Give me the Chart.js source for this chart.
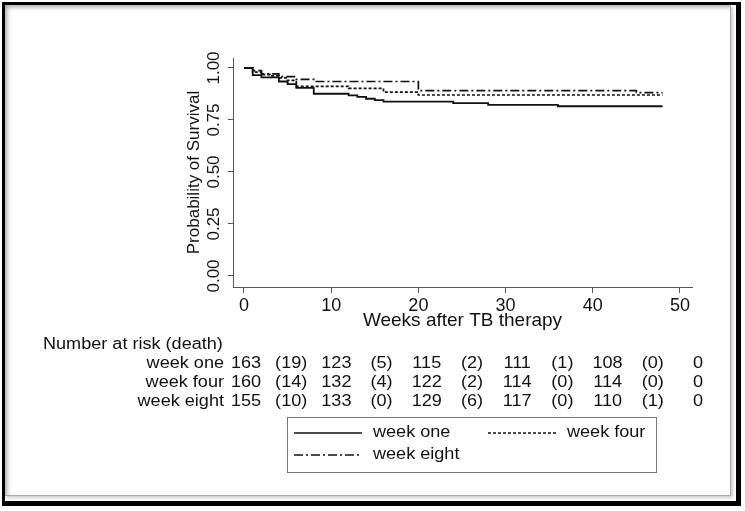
<!DOCTYPE html>
<html>
<head>
<meta charset="utf-8">
<script src="https://cdn.jsdelivr.net/npm/chart.js@4"></script>
<style>
    html, body { margin: 0; padding: 0; background: #fff; }
    #wrap { position: relative; width: 745px; height: 511px; overflow: hidden; }
    #frame {
        position: absolute; left: 2px; top: 2px; width: 739px; height: 504px;
        box-sizing: border-box; border-style: solid; border-color: #000;
        border-width: 3px 5px 5px 3px;
    }
    #inner {
        position: absolute; left: 5px; top: 5px; width: 726px; height: 491px;
        box-sizing: border-box; border-right: 1px solid #aaa; border-bottom: 1px solid #aaa;
        box-shadow: inset 4px 4px 5px -2px rgba(0,0,0,0.35), 2px 2px 3px rgba(0,0,0,0.2);
    }
    canvas { position: absolute; left: 0; top: 0; }
</style>
</head>
<body>
<div id="wrap">
    <div id="frame"></div>
    <div id="inner"></div>
    <canvas id="kmChart" width="745" height="511"></canvas>
</div>
<script>
// Kaplan-Meier curves
const seriesNames = ['week one', 'week four', 'week eight'];

const weeksOne = [0, 1, 2, 4, 5, 6, 8, 12, 13, 14, 15, 16, 24, 28, 36, 48];
const survOne  = [1.0, 0.966, 0.955, 0.935, 0.922, 0.904, 0.876, 0.868, 0.861, 0.852, 0.845, 0.838, 0.831, 0.823, 0.816, 0.816];

const weeksFour = [0, 1, 2, 3, 4, 5, 6, 12, 16, 20, 48];
const survFour  = [1.0, 0.98, 0.968, 0.962, 0.952, 0.94, 0.912, 0.902, 0.884, 0.870, 0.870];

const weeksEight = [0, 1, 2, 4, 6, 8, 20, 45, 48];
const survEight  = [1.0, 0.987, 0.972, 0.958, 0.945, 0.935, 0.891, 0.882, 0.882];

// Number at risk (death) table
const riskTitle = 'Number at risk (death)';
const atRiskOne   = [163, 123, 115, 111, 108, 0];
const deathsOne   = [19, 5, 2, 1, 0];
const atRiskFour  = [160, 132, 122, 114, 114, 0];
const deathsFour  = [14, 4, 2, 0, 0];
const atRiskEight = [155, 133, 129, 117, 110, 0];
const deathsEight = [10, 0, 6, 0, 1];

const FONT = "'Liberation Sans', Arial, sans-serif";
const INK = '#111';
const AXIS = '#555';
const TEXT_STRETCH = 1.13;

Chart.defaults.font.family = FONT;
Chart.defaults.color = INK;

const toPoints = (xs, ys) => xs.map((x, i) => ({ x: x, y: ys[i] }));

const dashes = [[], [3, 2], [9, 3, 2, 3]];

function drawText(ctx, text, x, y, align) {
    ctx.save();
    ctx.translate(x, y);
    ctx.scale(TEXT_STRETCH, 1);
    ctx.textAlign = align;
    ctx.textBaseline = 'middle';
    ctx.fillText(text, 0, 0);
    ctx.restore();
}

const extrasPlugin = {
    id: 'extras',
    afterDraw(chart) {
        const ctx = chart.ctx;
        const xs = chart.scales.x;
        const ys = chart.scales.y;

        // rotated y tick labels
        ctx.save();
        ctx.fillStyle = INK;
        ctx.font = '17px ' + FONT;
        ys.ticks.forEach(t => {
            ctx.save();
            ctx.translate(214.5, ys.getPixelForValue(t.value));
            ctx.rotate(-Math.PI / 2);
            ctx.textAlign = 'center';
            ctx.textBaseline = 'middle';
            ctx.fillText(t.value.toFixed(2), 0, 0);
            ctx.restore();
        });
        ctx.restore();

        // risk table
        ctx.save();
        ctx.fillStyle = INK;
        ctx.font = '16px ' + FONT;
        drawText(ctx, riskTitle, 43, 345, 'left');
        const rows = [
            [atRiskOne, deathsOne],
            [atRiskFour, deathsFour],
            [atRiskEight, deathsEight]
        ];
        const x0 = xs.getPixelForValue(0) + 2;
        const colStep = 45.2;
        rows.forEach((row, r) => {
            const y = 364 + r * 19;
            drawText(ctx, seriesNames[r], 224, y, 'right');
            row[0].forEach((n, i) => {
                drawText(ctx, String(n), x0 + i * 2 * colStep, y, 'center');
            });
            row[1].forEach((d, i) => {
                drawText(ctx, '(' + d + ')', x0 + (i * 2 + 1) * colStep, y, 'center');
            });
        });
        ctx.restore();

        // legend box
        ctx.save();
        ctx.strokeStyle = '#777';
        ctx.lineWidth = 1;
        ctx.strokeRect(287.5, 417.5, 369, 55);
        const items = [
            { x: 294, y: 433 },
            { x: 488, y: 433 },
            { x: 294, y: 455 }
        ];
        ctx.font = '16px ' + FONT;
        ctx.fillStyle = INK;
        items.forEach((it, i) => {
            ctx.save();
            ctx.strokeStyle = INK;
            ctx.lineWidth = 1.5;
            ctx.setLineDash(dashes[i]);
            ctx.beginPath();
            ctx.moveTo(it.x, it.y);
            ctx.lineTo(it.x + 68, it.y);
            ctx.stroke();
            ctx.restore();
            drawText(ctx, chart.data.datasets[i].label, it.x + 79, it.y, 'left');
        });
        ctx.restore();
    }
};

const ctx = document.getElementById('kmChart').getContext('2d');

new Chart(ctx, {
    type: 'line',
    data: {
        datasets: [{
            label: seriesNames[0],
            data: toPoints(weeksOne, survOne),
            borderColor: INK,
            borderWidth: 1.8,
            borderDash: dashes[0],
            stepped: true,
            pointRadius: 0,
            fill: false
        }, {
            label: seriesNames[1],
            data: toPoints(weeksFour, survFour),
            borderColor: INK,
            borderWidth: 1.7,
            borderDash: dashes[1],
            stepped: true,
            pointRadius: 0,
            fill: false
        }, {
            label: seriesNames[2],
            data: toPoints(weeksEight, survEight),
            borderColor: INK,
            borderWidth: 1.7,
            borderDash: dashes[2],
            stepped: true,
            pointRadius: 0,
            fill: false
        }]
    },
    options: {
        responsive: false,
        animation: false,
        devicePixelRatio: 1,
        layout: {
            padding: { left: 184, top: 58, right: 53, bottom: 179 }
        },
        plugins: {
            legend: { display: false },
            tooltip: { enabled: false }
        },
        scales: {
            x: {
                type: 'linear',
                min: -1.26,
                max: 51.38,
                afterFit: (scale) => { scale.height = 45; },
                ticks: {
                    stepSize: 10,
                    includeBounds: false,
                    maxRotation: 0,
                    padding: 2,
                    color: INK,
                    font: { size: 18 }
                },
                grid: {
                    drawOnChartArea: false,
                    drawTicks: true,
                    tickLength: 6,
                    color: AXIS
                },
                border: { color: AXIS, width: 1 },
                title: {
                    display: true,
                    text: 'Weeks after TB therapy',
                    color: INK,
                    font: { size: 19 },
                    padding: 0
                }
            },
            y: {
                type: 'linear',
                min: -0.053,
                max: 1.048,
                afterFit: (scale) => { scale.width = 49; },
                ticks: {
                    display: false,
                    stepSize: 0.25,
                    includeBounds: false
                },
                grid: {
                    drawOnChartArea: false,
                    drawTicks: true,
                    tickLength: 5,
                    color: AXIS
                },
                border: { color: AXIS, width: 1 },
                title: {
                    display: true,
                    text: 'Probability of Survival',
                    color: INK,
                    font: { size: 17 },
                    padding: 0
                }
            }
        }
    },
    plugins: [extrasPlugin]
});
</script>
</body>
</html>
